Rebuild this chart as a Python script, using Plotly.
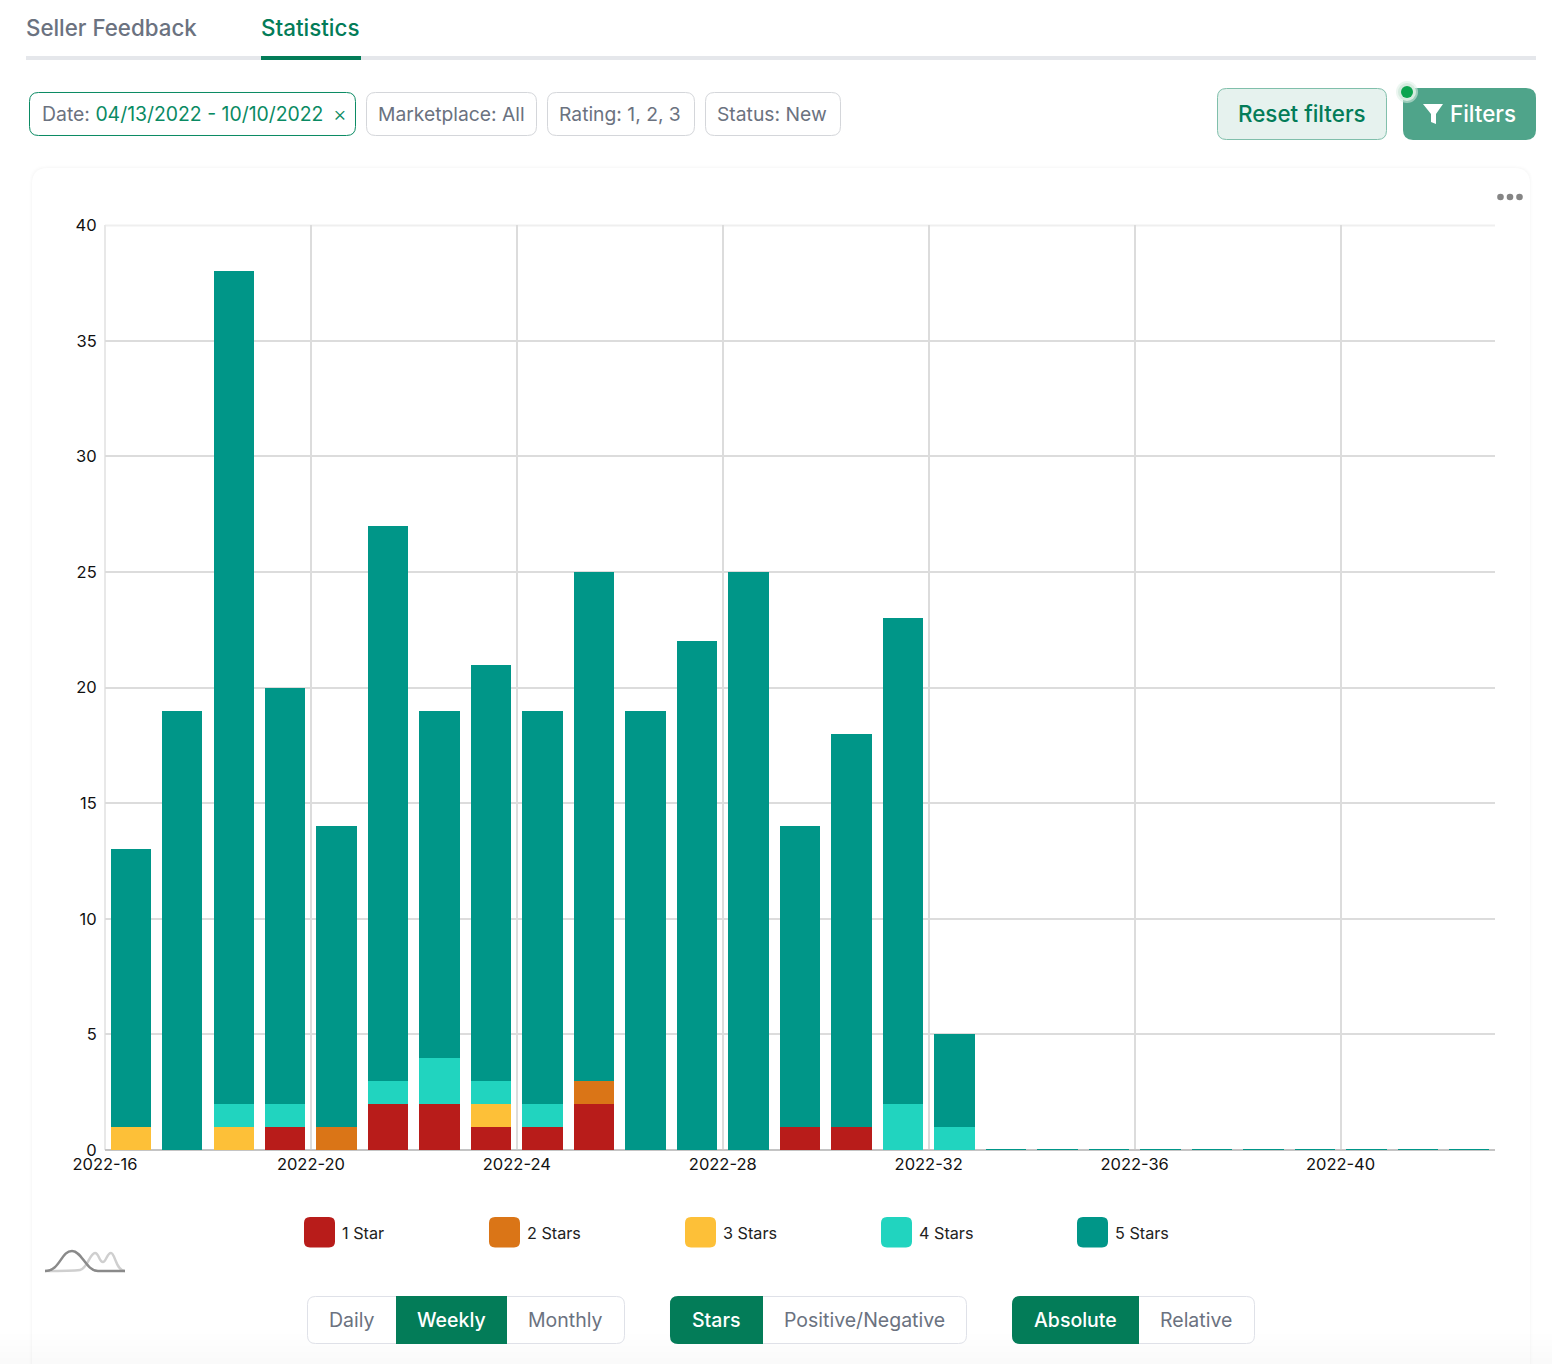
import plotly.graph_objects as go

weeks = [f"2022-{w}" for w in range(16, 43)]
one_star =   [0,0,0,1,0,2,2,1,1,2,0,0,0,1,1,0,0,0,0,0,0,0,0,0,0,0,0]
two_stars =  [0,0,0,0,1,0,0,0,0,1,0,0,0,0,0,0,0,0,0,0,0,0,0,0,0,0,0]
three_stars =[1,0,1,0,0,0,0,1,0,0,0,0,0,0,0,0,0,0,0,0,0,0,0,0,0,0,0]
four_stars = [0,0,1,1,0,1,2,1,1,0,0,0,0,0,0,2,1,0,0,0,0,0,0,0,0,0,0]
five_stars = [12,19,36,18,13,24,15,18,17,22,19,22,25,13,17,21,4,0,0,0,0,0,0,0,0,0,0]
series_names = ["1 Star", "2 Stars", "3 Stars", "4 Stars", "5 Stars"]
series_values = [one_star, two_stars, three_stars, four_stars, five_stars]
series_colors = ["#b81c1a", "#da7517", "#fdc038", "#21d4bf", "#009688"]
y_ticks = [0, 5, 10, 15, 20, 25, 30, 35, 40]

W, H = 1552, 1364
FONT = "Inter"
GREEN = "#037c58"
GREY = "#6b7280"

def X(p): return p / W
def Y(p): return 1 - p / H

def rr(x0, y0, x1, y1, r=0, rl=None, rr_=None, fill=None, line=None, lw=1, layer="above"):
    rl = r if rl is None else rl
    rr_ = r if rr_ is None else rr_
    def P(x, y): return f"{X(x):.6f},{Y(y):.6f}"
    d = f"M{P(x0+rl,y0)} L{P(x1-rr_,y0)} "
    if rr_: d += f"Q{P(x1,y0)} {P(x1,y0+rr_)} "
    d += f"L{P(x1,y1-rr_)} "
    if rr_: d += f"Q{P(x1,y1)} {P(x1-rr_,y1)} "
    d += f"L{P(x0+rl,y1)} "
    if rl: d += f"Q{P(x0,y1)} {P(x0,y1-rl)} "
    d += f"L{P(x0,y0+rl)} "
    if rl: d += f"Q{P(x0,y0)} {P(x0+rl,y0)} "
    d += "Z"
    return dict(type="path", xref="paper", yref="paper", path=d, fillcolor=fill or "rgba(0,0,0,0)",
                line=dict(color=line or "rgba(0,0,0,0)", width=lw if line else 0), layer=layer)

def circle(cx, cy, r, fill):
    return dict(type="circle", xref="paper", yref="paper", x0=X(cx-r), x1=X(cx+r), y0=Y(cy-r), y1=Y(cy+r),
                fillcolor=fill, line=dict(width=0), layer="above")

def curve(points, color, lw):
    d = f"M{X(points[0][0]):.6f},{Y(points[0][1]):.6f} "
    for a, b, c in points[1:]:
        d += "C" + " ".join(f"{X(p[0]):.6f},{Y(p[1]):.6f}" for p in (a, b, c)) + " "
    return dict(type="path", xref="paper", yref="paper", path=d, line=dict(color=color, width=lw), layer="above")

def label(x, y, text, size=19.3, color=GREY, weight=400, anchor="left"):
    return dict(xref="paper", yref="paper", x=X(x), y=Y(y), text=text, showarrow=False, xanchor=anchor,
                yanchor="middle", align=anchor, borderpad=0,
                font=dict(family=FONT, size=size, color=color, weight=weight))

fig = go.Figure()
xs = [i + 0.5 for i in range(len(weeks))]
for name, vals, col in zip(series_names, series_values, series_colors):
    lw = [1.5 if (v == 0 and name == "5 Stars") else 0 for v in vals]
    fig.add_bar(x=xs, y=vals, name=name, width=0.785,
                marker=dict(color=col, line=dict(color=col, width=lw)),
                customdata=weeks, hovertemplate="%{customdata}<br>" + name + ": %{y}<extra></extra>")

shapes, ann = [], []
# card, with a soft edge
for grow, alpha in ((3, 0.005), (2, 0.008), (1, 0.012)):
    shapes.append(rr(32-grow, 168-grow, 1530+grow, 1420, 16, fill=f"rgba(0,0,0,{alpha})", layer="below"))
shapes.append(rr(32, 168, 1530, 1420, 16, fill="#ffffff", layer="below"))
for i, a in enumerate((0.004, 0.004, 0.004, 0.004, 0.004)):
    shapes.append(rr(0, 1334 + i*6, W, H, fill=f"rgba(0,0,0,{a})", layer="below"))

# plot frame: top and left edges
shapes.append(rr(105, 224.5, 1495, 226.5, fill="#efefef", layer="below"))
shapes.append(rr(104, 225, 106, 1150, fill="#e8e8e8", layer="below"))

# tabs
shapes.append(rr(26, 56, 1536, 60, fill="#e5e7eb"))
shapes.append(rr(261, 56, 361, 60, fill=GREEN))
ann.append(label(25, 28, "Seller Feedback", 22.3, GREY, 500))
ann.append(label(260, 28, "Statistics", 22.4, GREEN, 500))

# filter pills
shapes.append(rr(29.5, 92.5, 355.5, 135.5, 9, fill="#ffffff", line="#0a8a63"))
for x0, x1 in ((366.5, 536.5), (547.5, 694.5), (705.5, 840.5)):
    shapes.append(rr(x0, 92.5, x1, 135.5, 9, fill="#ffffff", line="#d4d6da"))
ann.append(label(41, 113.5, f'Date: <span style="color:#0a8a63">04/13/2022 - 10/10/2022</span>', 19.4))
ann.append(label(340, 113.5, "×", 21, "#0a8a63", 300, "center"))
ann.append(label(377, 113.5, "Marketplace: All"))
ann.append(label(558, 113.5, "Rating: 1, 2, 3"))
ann.append(label(716, 113.5, "Status: New"))

# right buttons
shapes.append(rr(1217.5, 88.5, 1386.5, 139.5, 9, fill="#e6f2ee", line="#80bfab"))
ann.append(label(1302, 113.5, "Reset filters", 22.4, GREEN, 500, "center"))
shapes.append(rr(1403, 88, 1536, 140, 10, fill="#4fa48a"))
ann.append(label(1448.5, 113.5, "Filters", 22.4, "#ffffff", 500))
funnel = [(1423, 104), (1443, 104), (1436, 114), (1436, 124), (1431, 122), (1431, 114)]
shapes.append(dict(type="path", xref="paper", yref="paper", fillcolor="#ffffff", line=dict(width=0), layer="above",
                   path="M" + " L".join(f"{X(a):.6f},{Y(b):.6f}" for a, b in funnel) + " Z"))
shapes.append(circle(1407, 92, 11, "rgba(220,238,230,0.55)"))
shapes.append(circle(1407, 92, 9, "#d5ebdf"))
shapes.append(circle(1407, 92, 6, "#0ba44f"))

# three dots
for cx in (1500.5, 1510, 1519.5):
    shapes.append(circle(cx, 197, 3.3, "#858585"))

# legend
for name, col, sx, tx in zip(series_names, series_colors, (304, 489, 685, 881, 1077), (341, 526, 722, 918, 1114)):
    shapes.append(rr(sx, 1217, sx + 31, 1247.5, 6, fill=col))
    ann.append(label(tx, 1232.5, name, 16.2, "#222222"))

# distribution icon
shapes.append(curve([(45, 1271), ((62, 1271), (72, 1271), (80, 1270)), ((87, 1269), (90, 1253), (95, 1253)),
                     ((99, 1253), (99, 1262), (103, 1262)), ((106, 1262), (107, 1253), (111, 1253)),
                     ((115, 1253), (116, 1271), (125, 1271))], "#cfcfcf", 2.5))
shapes.append(curve([(45, 1271), ((60, 1271), (61, 1251), (72, 1251)), ((82, 1251), (86, 1271), (98, 1271)),
                     ((108, 1271), (115, 1271), (125, 1271))], "#8a8a8a", 2.5))

# segmented controls
for x0, x1 in ((307.5, 624.5), (670.5, 966.5), (1012.5, 1254.5)):
    shapes.append(rr(x0, 1296.5, x1, 1343.5, 8, fill="#ffffff", line="#dfe1e8"))
shapes.append(rr(396, 1296, 507, 1344, fill=GREEN))
shapes.append(rr(670, 1296, 763, 1344, rl=8, rr_=0, fill=GREEN))
shapes.append(rr(1012, 1296, 1139, 1344, rl=8, rr_=0, fill=GREEN))
for x, t, on in ((352, "Daily", 0), (451, "Weekly", 1), (565, "Monthly", 0), (716, "Stars", 1),
                 (864, "Positive/Negative", 0), (1075, "Absolute", 1), (1196, "Relative", 0)):
    ann.append(label(x, 1320, t, 19.5, "#ffffff" if on else GREY, 500 if on else 400, "center"))

fig.update_layout(
    width=W, height=H, autosize=False, barmode="stack", showlegend=False, bargap=0.2,
    margin=dict(l=0, r=0, t=0, b=0, pad=0, autoexpand=False),
    paper_bgcolor="#ffffff", plot_bgcolor="rgba(0,0,0,0)",
    font=dict(family=FONT, size=15, color="#111111"),
    shapes=shapes, annotations=ann,
    xaxis=dict(domain=[X(105), X(1495)], range=[0, len(weeks)], tickmode="array",
               tickvals=list(range(0, len(weeks), 4)), ticktext=weeks[::4],
               showgrid=True, gridcolor="#dcdcdc", gridwidth=1.5, zeroline=False, showline=False,
               ticks="", ticklabelstandoff=2,
               tickfont=dict(family=FONT, size=16.5, color="#111111")),
    yaxis=dict(domain=[Y(1150), Y(225.25)], range=[0, 40], tickmode="array", tickvals=y_ticks,
               showgrid=True, gridcolor="#dcdcdc", gridwidth=1.5, zeroline=True, zerolinecolor="#c4c4c4",
               zerolinewidth=1.5, showline=False, ticks="outside", ticklen=4, tickcolor="rgba(0,0,0,0)",
               tickfont=dict(family=FONT, size=16.5, color="#111111")),
)
fig.write_html("out.html", config=dict(displayModeBar=False),
               post_script="document.body.style.margin='0';document.documentElement.style.overflow='hidden';")
